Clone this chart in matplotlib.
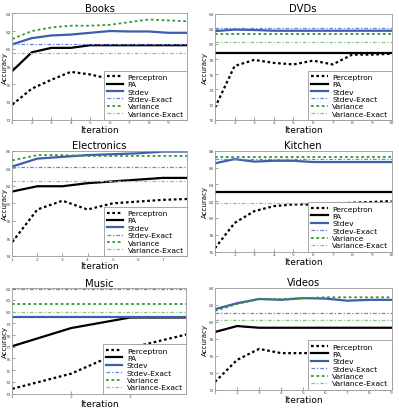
import matplotlib
matplotlib.use("Agg")
import matplotlib.pyplot as plt

# accuracy per iteration
books_x = [1, 2, 3, 4, 5, 6, 7, 8, 9, 10]
books_perceptron = [73.7, 75.5, 76.5, 77.4, 77.1, 76.6, 76.7, 76.8, 76.9, 77.0]
books_pa = [77.5, 79.6, 80.1, 80.1, 80.4, 80.4, 80.4, 80.4, 80.4, 80.4]
books_stdev = [80.5, 81.2, 81.5, 81.6, 81.8, 82.0, 81.95, 81.95, 81.8, 81.8]
books_stdev_exact = 80.5
books_variance = [81.1, 82.0, 82.4, 82.6, 82.6, 82.7, 83.0, 83.3, 83.2, 83.1]
books_variance_exact = 79.5

dvds_x = [1, 2, 3, 4, 5, 6, 7, 8, 9, 10]
dvds_perceptron = [71.6, 77.1, 77.9, 77.5, 77.3, 77.8, 77.3, 78.6, 78.6, 78.7]
dvds_pa = [78.8] * 10
dvds_stdev = [81.7, 81.9, 81.85, 81.75, 81.75, 81.75, 81.75, 81.75, 81.75, 81.75]
dvds_stdev_exact = 82.1
dvds_variance = [81.35] * 10
dvds_variance_exact = 80.2

elec_x = [1, 2, 3, 4, 5, 6, 7, 8]
elec_perceptron = [75.6, 79.3, 80.3, 79.3, 80.0, 80.2, 80.4, 80.5]
elec_pa = [81.35, 81.95, 81.95, 82.3, 82.5, 82.7, 82.9, 82.9]
elec_stdev = [84.2, 85.1, 85.3, 85.5, 85.6, 85.7, 85.9, 85.9]
elec_stdev_exact = 84.1
elec_variance = [84.9, 85.5, 85.5, 85.4, 85.4, 85.4, 85.4, 85.4]
elec_variance_exact = 82.6

kitchen_x = [1, 2, 3, 4, 5, 6, 7, 8, 9, 10]
kitchen_perceptron = [76.4, 79.4, 80.8, 81.4, 81.6, 81.6, 81.7, 81.8, 81.9, 82.0]
kitchen_pa = [83.1] * 10
kitchen_stdev = [86.5, 87.0, 86.7, 86.8, 86.8, 86.65, 86.65, 86.65, 86.65, 86.65]
kitchen_stdev_exact = 87.05
kitchen_variance = [87.2] * 10
kitchen_variance_exact = 81.8

music_x = [1, 2, 3, 4]
music_perceptron = [73.4, 74.7, 76.9, 78.1]
music_pa = [77.05, 78.6, 79.5, 79.5]
music_stdev = [79.55] * 4
music_stdev_exact = 81.97
music_variance = [80.65] * 4
music_variance_exact = 79.95

videos_x = [1, 2, 3, 4, 5, 6, 7, 8, 9]
videos_perceptron = [72.9, 75.5, 76.8, 76.3, 76.3, 76.3, 76.3, 76.3, 76.3]
videos_pa = [78.8, 79.5, 79.3, 79.3, 79.3, 79.3, 79.3, 79.3, 79.3]
videos_stdev = [81.5, 82.2, 82.7, 82.6, 82.8, 82.75, 82.5, 82.6, 82.6]
videos_stdev_exact = 81.1
videos_variance = [81.3, 82.1, 82.7, 82.7, 82.8, 82.9, 82.9, 82.9, 82.9]
videos_variance_exact = 80.2

W, H = 399, 410

# title, data, xlim, xticks, ylim, yticks, axes box in pixels (left, top, right, bottom)
panels = [
    ("Books", books_x, books_perceptron, books_pa, books_stdev, books_stdev_exact,
     books_variance, books_variance_exact, (1, 9.95), range(1, 10), (72, 84), range(72, 85, 2),
     (12.3, 14.3, 186.7, 120.7)),
    ("DVDs", dvds_x, dvds_perceptron, dvds_pa, dvds_stdev, dvds_stdev_exact,
     dvds_variance, dvds_variance_exact, (1, 10), range(1, 11), (70, 84), range(70, 85, 2),
     (215, 14.7, 391.5, 120.7)),
    ("Electronics", elec_x, elec_perceptron, elec_pa, elec_stdev, elec_stdev_exact,
     elec_variance, elec_variance_exact, (1, 7.95), range(1, 8), (74, 86), range(74, 87, 2),
     (12.3, 151.7, 186.7, 257.0)),
    ("Kitchen", kitchen_x, kitchen_perceptron, kitchen_pa, kitchen_stdev, kitchen_stdev_exact,
     kitchen_variance, kitchen_variance_exact, (1, 10), range(1, 11), (76, 88), range(76, 89, 2),
     (215, 151.7, 391.5, 252.5)),
    ("Music", music_x, music_perceptron, music_pa, music_stdev, music_stdev_exact,
     music_variance, music_variance_exact, (1, 3.95), range(1, 4), (73, 82), range(73, 83),
     (12.3, 289.3, 186.0, 394.5)),
    ("Videos", videos_x, videos_perceptron, videos_pa, videos_stdev, videos_stdev_exact,
     videos_variance, videos_variance_exact, (1, 9), range(1, 10), (72, 84), range(72, 85, 2),
     (215, 289.0, 391.5, 390.5)),
]

fig = plt.figure(figsize=(W / 100, H / 100), dpi=100)

for (title, x, perc, pa, sd, sd_ex, var, var_ex, xlim, xticks, ylim, yticks, box) in panels:
    l, t, r, b = box
    ax = fig.add_axes([l / W, 1 - b / H, (r - l) / W, (b - t) / H])
    ax.plot(x, perc, color="black", linestyle=(0, (1.2, 1.2)), linewidth=1.6, label="Perceptron")
    ax.plot(x, pa, color="black", linestyle="-", linewidth=1.6, label="PA")
    ax.plot(x, sd, color="#3d5ea8", linestyle="-", linewidth=1.6, label="Stdev")
    ax.plot(x, [sd_ex] * len(x), color="#7080d8", linestyle=(0, (3, 1.5, 1, 1.5)), linewidth=0.9,
            label="Stdev-Exact")
    ax.plot(x, var, color="#2f9a3a", linestyle=(0, (1.5, 1.5)), linewidth=1.3, label="Variance")
    ax.plot(x, [var_ex] * len(x), color="#86c98a", linestyle=(0, (3, 1.5, 1, 1.5)), linewidth=0.9,
            label="Variance-Exact")

    ax.set_xlim(*xlim)
    ax.set_ylim(*ylim)
    ax.set_xticks(list(xticks))
    ax.set_yticks(list(yticks))
    ax.tick_params(labelsize=3.2, length=2, width=0.4, direction="in", pad=0.5, colors="#555555")
    for s in ax.spines.values():
        s.set_color("#999999")
        s.set_linewidth(0.6)

    ax.set_title(title, fontsize=7.2, pad=2)
    ax.set_xlabel("Iteration", fontsize=6.5, labelpad=0.5)
    ax.set_ylabel("Accuracy", fontsize=5.0)
    # the label's right edge sits at this point, just inside the figure edge
    ax.yaxis.set_label_coords(-(l - 7.6 if l < 100 else 7.5) / (r - l), 0.5)

    leg = ax.legend(loc="lower right", fontsize=5.4, borderaxespad=0, fancybox=False,
                    handlelength=2.2, handletextpad=0.6, labelspacing=0.15,
                    borderpad=0.4, framealpha=1)
    leg.get_frame().set_edgecolor("#999999")
    leg.get_frame().set_linewidth(0.6)

fig.savefig("out.png", dpi=100)
